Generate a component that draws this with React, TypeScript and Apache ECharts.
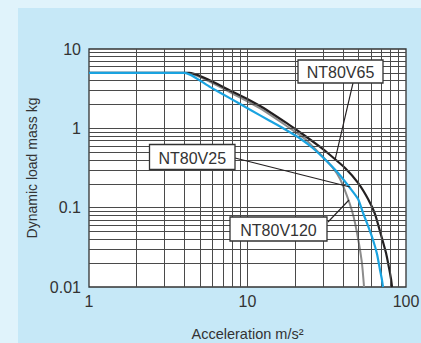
import React, { useEffect, useRef } from "react";
import * as echarts from "echarts";

// NT80V25 (blue)
const accelV25 = [1, 3.6, 4.02, 5.82, 7.78, 10.39, 13.89, 16.78, 21.47, 25.56, 30.86, 37.27, 44.36, 49.83, 53.58, 57.61, 61.94, 65.63, 68.56, 70.58, 71.61];
const massV25 = [5, 5, 5, 3.31, 2.385, 1.718, 1.237, 1.001, 0.745, 0.573, 0.405, 0.274, 0.177, 0.1285, 0.0857, 0.0588, 0.0391, 0.0261, 0.0164, 0.0122, 0.01];

// NT80V65 (black)
const accelV65 = [1, 3.9, 4.29, 8.12, 12.02, 18.04, 22.43, 28.71, 33.19, 41.26, 49.83, 57.61, 63.76, 69.58, 74.82, 78.14, 80.43, 81.61];
const massV65 = [5, 5, 5, 2.87, 1.91, 1.13, 0.836, 0.582, 0.461, 0.316, 0.205, 0.1285, 0.0832, 0.0452, 0.0268, 0.0174, 0.0126, 0.01];

// NT80V120 (gray)
const accelV120 = [1, 3.8, 4.17, 8.12, 12.02, 18.04, 23.09, 28.71, 34.17, 38.37, 42.48, 45.67, 47.7, 50.55, 52.8, 54.36];
const massV120 = [5, 5, 5, 2.71, 1.78, 1.04, 0.734, 0.475, 0.326, 0.23, 0.14, 0.0908, 0.0641, 0.0348, 0.0195, 0.01];

const xTickLabels = ["1", "10", "100"];
const yTickLabels = ["0.01", "0.1", "1", "10"];

const xGridValues = [2, 3, 4, 5, 6, 7, 8, 9, 10, 20, 30, 40, 50, 60, 70, 80, 90];
const yGridValues = [
  0.02, 0.03, 0.04, 0.05, 0.06, 0.07, 0.08, 0.09, 0.1,
  0.2, 0.3, 0.4, 0.5, 0.6, 0.7, 0.8, 0.9, 1,
  2, 3, 4, 5, 6, 7, 8, 9,
];

const FONT = "'Liberation Sans', Arial, Helvetica, sans-serif";

function zip(xs: number[], ys: number[]) {
  return xs.map((x, i) => [x, ys[i]]);
}

function labelBox(text: string, x: number, y: number, w: number, h: number) {
  return [
    {
      type: "rect",
      z: 100,
      shape: { x, y, width: w, height: h },
      style: { fill: "#ffffff", stroke: "#333333", lineWidth: 1.3 },
    },
    {
      type: "text",
      z: 101,
      style: {
        text,
        x: x + w / 2,
        y: y + h / 2 + 1,
        align: "center",
        verticalAlign: "middle",
        font: `16px ${FONT}`,
        fill: "#333333",
      },
    },
  ];
}

function leader(x1: number, y1: number, x2: number, y2: number) {
  return {
    type: "line",
    z: 99,
    shape: { x1, y1, x2, y2 },
    style: { stroke: "#231f20", lineWidth: 1.1 },
  };
}

export default function App() {
  const ref = useRef<HTMLDivElement>(null);

  useEffect(() => {
    if (!ref.current) return;
    const chart = echarts.init(ref.current, null, { renderer: "svg" });
    const curve = {
      type: "line",
      symbol: "none",
      smooth: 0.2,
      emphasis: { disabled: true },
    };
    chart.setOption({
      animation: false,
      backgroundColor: "transparent",
      textStyle: { fontFamily: FONT },
      grid: {
        left: 89,
        right: 15,
        top: 49,
        bottom: 56,
        containLabel: false,
        outerBoundsMode: "none",
        show: true,
        backgroundColor: "#ffffff",
        borderColor: "#333333",
        borderWidth: 1.3,
      },
      xAxis: {
        type: "log",
        logBase: 10,
        min: 1,
        max: 100,
        axisLine: { show: false },
        axisTick: { show: false },
        splitLine: { show: false },
        minorTick: { show: false },
        axisLabel: {
          fontSize: 16,
          color: "#333333",
          margin: 6,
          fontFamily: FONT,
          formatter: (v: number) => xTickLabels[Math.round(Math.log10(v))] ?? "",
        },
        name: "Acceleration m/s²",
        nameLocation: "middle",
        nameGap: 39,
        nameTextStyle: { fontSize: 14.5, color: "#333333", fontFamily: FONT },
      },
      yAxis: {
        type: "log",
        logBase: 10,
        min: 0.01,
        max: 10,
        axisLine: { show: false },
        axisTick: { show: false },
        splitLine: { show: false },
        minorTick: { show: false },
        axisLabel: {
          fontSize: 16,
          color: "#333333",
          margin: 8,
          fontFamily: FONT,
          formatter: (v: number) => yTickLabels[Math.round(Math.log10(v)) + 2] ?? "",
        },
        name: "Dynamic load mass kg",
        nameLocation: "middle",
        nameGap: 50,
        nameTextStyle: { fontSize: 14, color: "#333333", fontFamily: FONT },
      },
      series: [
        {
          type: "line",
          name: "grid",
          data: [[1, 0.01]],
          symbol: "none",
          silent: true,
          z: 1,
          lineStyle: { opacity: 0 },
          markLine: {
            silent: true,
            symbol: ["none", "none"],
            label: { show: false },
            emphasis: { disabled: true },
            lineStyle: { color: "#4a4a4a", width: 1, type: "solid" },
            data: [
              ...xGridValues.map((v) => ({ xAxis: v })),
              ...yGridValues.map((v) => ({ yAxis: v })),
            ],
          },
        },
        {
          ...curve,
          name: "NT80V120",
          data: zip(accelV120, massV120),
          z: 3,
          lineStyle: { color: "#8c8c8c", width: 2 },
        },
        {
          ...curve,
          name: "NT80V65",
          data: zip(accelV65, massV65),
          z: 4,
          lineStyle: { color: "#231f20", width: 2.2 },
        },
        {
          ...curve,
          name: "NT80V25",
          data: zip(accelV25, massV25),
          z: 5,
          lineStyle: { color: "#1aa3e0", width: 2.2 },
        },
      ],
      graphic: [
        leader(353, 83, 335, 160),
        leader(235, 158, 350, 187),
        leader(328, 222, 349, 200),
        ...labelBox("NT80V65", 298, 60, 85, 23),
        ...labelBox("NT80V25", 149.5, 144.5, 85.5, 25),
        ...labelBox("NT80V120", 230, 217, 97, 24),
      ],
    });
    return () => chart.dispose();
  }, []);

  return (
    <div
      style={{
        position: "fixed",
        left: 0,
        top: 0,
        width: 421,
        height: 343,
        background: "#e0f3fb",
        overflow: "hidden",
      }}
    >
      <div
        style={{
          position: "absolute",
          left: 18,
          top: 8,
          right: 0,
          bottom: 0,
          background: "#c6e8f7",
        }}
      />
      <div
        ref={ref}
        style={{ position: "absolute", left: 0, top: 0, width: 421, height: 343 }}
      />
    </div>
  );
}
